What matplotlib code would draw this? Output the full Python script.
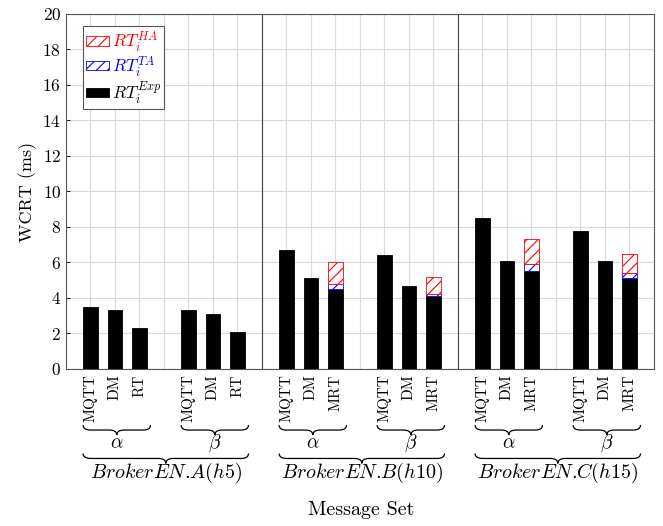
import matplotlib
matplotlib.use("Agg")
import matplotlib.pyplot as plt
from matplotlib.patches import Patch, PathPatch
from matplotlib.path import Path
from matplotlib.transforms import blended_transform_factory

plt.rcParams["font.family"] = "cmr10"
plt.rcParams["mathtext.fontset"] = "cm"
plt.rcParams["axes.formatter.use_mathtext"] = True
plt.rcParams["hatch.linewidth"] = 0.8

# Broker scenarios, message sets and per-bar protocol labels
brokers = [r"$BrokerEN$.$A(h5)$", r"$BrokerEN$.$B(h10)$", r"$BrokerEN$.$C(h15)$"]
message_sets = [r"$\alpha$", r"$\beta$"]
protocols = [
    ["MQTT", "DM", "RT"], ["MQTT", "DM", "RT"],
    ["MQTT", "DM", "MRT"], ["MQTT", "DM", "MRT"],
    ["MQTT", "DM", "MRT"], ["MQTT", "DM", "MRT"],
]

# WCRT (ms): experimental part, plus timing-analysis and holistic-analysis increments
rt_exp = [3.5, 3.3, 2.3, 3.3, 3.1, 2.1,
          6.7, 5.1, 4.5, 6.4, 4.7, 4.1,
          8.5, 6.1, 5.5, 7.8, 6.1, 5.1]
rt_ta = [0, 0, 0, 0, 0, 0,
         0, 0, 0.3, 0, 0, 0.15,
         0, 0, 0.4, 0, 0, 0.3]
rt_ha = [0, 0, 0, 0, 0, 0,
         0, 0, 1.2, 0, 0, 0.95,
         0, 0, 1.4, 0, 0, 1.1]

fig = plt.figure(figsize=(6.63, 5.26), dpi=100)
ax = fig.add_axes([0.0995, 0.2985, 0.8869, 0.6749])

# bar positions: 3 bars per message set, gap between sets, separator between brokers
xs, tick_labels = [], []
for g in range(len(brokers)):
    for s in range(len(message_sets)):
        for k, lab in enumerate(protocols[2 * g + s]):
            xs.append(1 + 8 * g + 4 * s + k)
            tick_labels.append(lab)

width = 0.6
ax.bar(xs, rt_exp, width, color="black", edgecolor="black", linewidth=0.6, zorder=3)
for x, e, ta, ha in zip(xs, rt_exp, rt_ta, rt_ha):
    if ta > 0:
        ax.bar(x, ta, width, bottom=e, color="white", edgecolor="blue",
               hatch="///", linewidth=0.6, zorder=3)
    if ha > 0:
        ax.bar(x, ha, width, bottom=e + ta, color="white", edgecolor="red",
               hatch="///", linewidth=0.6, zorder=3)

ax.set_xlim(0, 24)
ax.set_ylim(0, 20)
ax.set_yticks(range(0, 21, 2))
ax.set_xticks(range(0, 25), minor=True)
ax.set_xticks(xs)
ax.set_xticklabels(tick_labels, rotation=90, fontsize=11)
ax.tick_params(axis="x", which="both", length=0, pad=4)
ax.tick_params(axis="y", direction="in", length=3, labelsize=12.5, width=0.6)
ax.grid(True, which="both", color="#d9d9d9", linewidth=0.8, zorder=0)
ax.set_axisbelow(True)
for sp in ax.spines.values():
    sp.set_color("#555555")
    sp.set_linewidth(0.8)

for xsep in (8, 16):
    ax.axvline(xsep, color="#444444", linewidth=0.8, zorder=2)

ax.set_ylabel("WCRT (ms)", fontsize=13)
fig.text(0.545, 0.03, "Message Set", ha="center", va="center", fontsize=14.5)

# curly braces under the tick labels
trans = blended_transform_factory(ax.transData, ax.transAxes)


def brace(x0, x1, ytop, h, q=0.3, lw=0.9):
    xm = (x0 + x1) / 2
    yc = ytop - h / 2
    verts = [(x0, ytop), (x0, yc), (x0 + q, yc),
             (xm - q, yc), (xm, yc), (xm, ytop - h),
             (xm, yc), (xm + q, yc),
             (x1 - q, yc), (x1, yc), (x1, ytop)]
    codes = [Path.MOVETO, Path.CURVE3, Path.CURVE3,
             Path.LINETO, Path.CURVE3, Path.CURVE3,
             Path.CURVE3, Path.CURVE3,
             Path.LINETO, Path.CURVE3, Path.CURVE3]
    ax.add_patch(PathPatch(Path(verts, codes), facecolor="none", edgecolor="black",
                           linewidth=lw, transform=trans, clip_on=False))


for g, bname in enumerate(brokers):
    for s, sname in enumerate(message_sets):
        x0 = 0.7 + 8 * g + 4 * s
        x1 = x0 + 2.75
        brace(x0, x1, -0.158, 0.028)
        ax.text((x0 + x1) / 2, -0.208, sname, transform=trans, ha="center",
                va="center", fontsize=14)
    x0 = 0.7 + 8 * g
    x1 = x0 + 6.75
    brace(x0, x1, -0.238, 0.028)
    ax.text((x0 + x1) / 2, -0.292, bname, transform=trans, ha="center",
            va="center", fontsize=14.5)

handles = [
    Patch(facecolor="white", edgecolor="red", hatch="///", linewidth=0.6),
    Patch(facecolor="white", edgecolor="blue", hatch="///", linewidth=0.6),
    Patch(facecolor="black", edgecolor="black", linewidth=0.6),
]
legend_labels = [r"$RT_i^{HA}$", r"$RT_i^{TA}$", r"$RT_i^{Exp}$"]
leg = ax.legend(handles, legend_labels, loc="upper left", bbox_to_anchor=(0.029, 0.966),
                borderaxespad=0, fontsize=12.5, fancybox=False, framealpha=1,
                edgecolor="#555555", handlelength=1.3, handleheight=0.45,
                handletextpad=0.15, labelspacing=0.0, borderpad=0.2)
leg.get_frame().set_linewidth(0.8)
for t, c in zip(leg.get_texts(), ["red", "blue", "black"]):
    t.set_color(c)

fig.savefig("out.png", dpi=100)
